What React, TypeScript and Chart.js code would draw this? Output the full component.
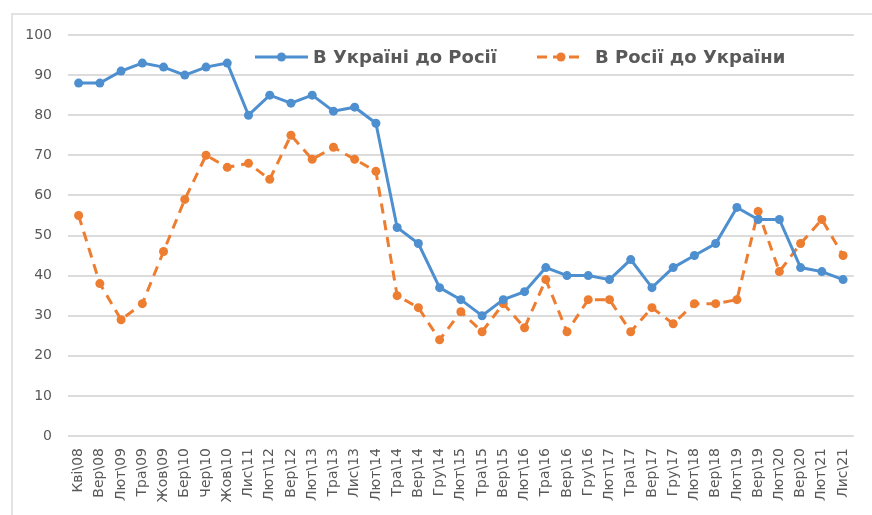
import React, { useEffect, useRef } from "react";
import { Chart, registerables } from "chart.js";

Chart.register(...registerables);

const categories: string[] = [
  "Кві\\08", "Вер\\08", "Лют\\09", "Тра\\09", "Жов\\09", "Бер\\10", "Чер\\10", "Жов\\10",
  "Лис\\11", "Лют\\12", "Вер\\12", "Лют\\13", "Тра\\13", "Лис\\13", "Лют\\14", "Тра\\14",
  "Вер\\14", "Гру\\14", "Лют\\15", "Тра\\15", "Вер\\15", "Лют\\16", "Тра\\16", "Вер\\16",
  "Гру\\16", "Лют\\17", "Тра\\17", "Вер\\17", "Гру\\17", "Лют\\18", "Вер\\18", "Лют\\19",
  "Вер\\19", "Лют\\20", "Вер\\20", "Лют\\21", "Лис\\21",
];

const ukraineToRussia: number[] = [
  88, 88, 91, 93, 92, 90, 92, 93, 80, 85, 83, 85, 81, 82, 78, 52, 48, 37, 34, 30,
  34, 36, 42, 40, 40, 39, 44, 37, 42, 45, 48, 57, 54, 54, 42, 41, 39,
];

const russiaToUkraine: number[] = [
  55, 38, 29, 33, 46, 59, 70, 67, 68, 64, 75, 69, 72, 69, 66, 35, 32, 24, 31, 26,
  33, 27, 39, 26, 34, 34, 26, 32, 28, 33, 33, 34, 56, 41, 48, 54, 45,
];

const seriesNames: string[] = ["В Україні до Росії", "В Росії до України"];

const BLUE = "#4d8fcf";
const ORANGE = "#ed7d31";
const TEXT = "#595959";
const GRID = "#dcdcdc";
const FONT = "'DejaVu Sans', sans-serif";

const legendPlugin = {
  id: "customLegend",
  afterDraw(chart: any) {
    const ctx = chart.ctx;
    const items = [
      { x0: 255, x1: 308, tx: 313, color: BLUE, dash: [] as number[], label: chart.data.datasets[0].label },
      { x0: 537, x1: 585, tx: 595, color: ORANGE, dash: [10, 6], label: chart.data.datasets[1].label },
    ];
    const y = 57;
    ctx.save();
    for (const it of items) {
      ctx.strokeStyle = it.color;
      ctx.lineWidth = 3;
      ctx.setLineDash(it.dash);
      ctx.beginPath();
      ctx.moveTo(it.x0, y);
      ctx.lineTo(it.x1, y);
      ctx.stroke();
      ctx.setLineDash([]);
      ctx.fillStyle = it.color;
      ctx.beginPath();
      ctx.arc((it.x0 + it.x1) / 2, y, 4.5, 0, Math.PI * 2);
      ctx.fill();
      ctx.fillStyle = TEXT;
      ctx.font = `bold 18px ${FONT}`;
      ctx.textBaseline = "middle";
      ctx.textAlign = "left";
      ctx.fillText(it.label, it.tx, y + 1);
    }
    ctx.restore();
  },
};

export default function App() {
  const ref = useRef<HTMLCanvasElement | null>(null);

  useEffect(() => {
    document.body.style.margin = "0";
    if (!ref.current) return;
    const chart = new Chart(ref.current, {
      type: "line",
      data: {
        labels: categories,
        datasets: [
          {
            label: seriesNames[0],
            data: ukraineToRussia,
            borderColor: BLUE,
            backgroundColor: BLUE,
            borderWidth: 3,
            pointRadius: 4.5,
            pointBorderWidth: 0,
            pointBackgroundColor: BLUE,
            tension: 0,
          },
          {
            label: seriesNames[1],
            data: russiaToUkraine,
            borderColor: ORANGE,
            backgroundColor: ORANGE,
            borderWidth: 3,
            borderDash: [10, 7],
            pointRadius: 4.5,
            pointBorderWidth: 0,
            pointBackgroundColor: ORANGE,
            tension: 0,
          },
        ],
      },
      options: {
        animation: false,
        responsive: false,
        maintainAspectRatio: false,
        layout: { padding: { top: 35, right: 9, left: 0, bottom: 0 } },
        plugins: {
          legend: { display: false },
          tooltip: { enabled: false },
        },
        scales: {
          x: {
            offset: true,
            grid: { display: false, drawTicks: false },
            border: { display: false },
            afterFit: (s: any) => { s.height = 79; },
            ticks: {
              autoSkip: false,
              maxRotation: 90,
              minRotation: 90,
              padding: 12,
              color: TEXT,
              font: { family: FONT, size: 14 },
            },
          },
          y: {
            min: 0,
            max: 100,
            afterFit: (s: any) => { s.width = 68; },
            grid: { color: GRID, lineWidth: 2, drawTicks: false },
            border: { display: false },
            ticks: {
              stepSize: 10,
              padding: 16,
              color: TEXT,
              font: { family: FONT, size: 14 },
            },
          },
        },
      },
      plugins: [legendPlugin],
    });
    return () => chart.destroy();
  }, []);

  return (
    <div style={{ position: "relative", width: 872, height: 515, background: "#fff" }}>
      <div
        style={{
          position: "absolute",
          left: 11,
          top: 13,
          right: 0,
          bottom: 0,
          borderLeft: "2px solid #e2e2e2",
          borderTop: "2px solid #e2e2e2",
        }}
      />
      <canvas ref={ref} width={872} height={515} style={{ position: "absolute", left: 0, top: 0, display: "block" }} />
    </div>
  );
}
